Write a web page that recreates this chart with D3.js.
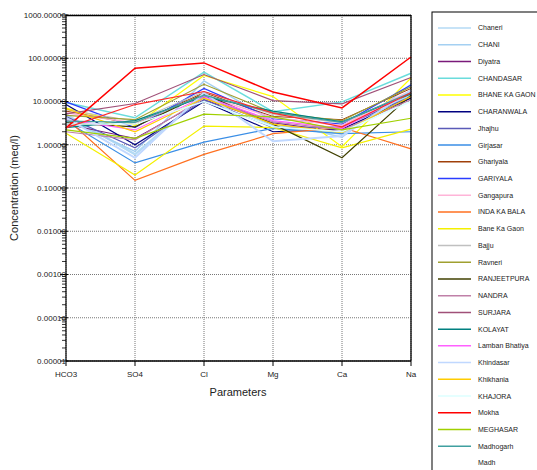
<!DOCTYPE html>
<html><head><meta charset="utf-8">
<script src="https://cdn.jsdelivr.net/npm/d3@7"></script>
<style>body{margin:0;background:#fff}svg{display:block}text{font-family:"Liberation Sans",Arial,sans-serif}</style>
</head><body><svg id="c" width="537" height="470"></svg>
<script>
const parameters = ["HCO3","SO4","Cl","Mg","Ca","Na"];
const yTickValues = [1000,100,10,1,0.1,0.01,0.001,0.0001,0.00001];
const yTickLabels = ["1000.00000","100.00000","10.00000","1.00000","0.10000","0.01000","0.00100","0.00010","0.00001"];
const siteNames = ["Chaneri","CHANI","Diyatra","CHANDASAR","BHANE KA GAON","CHARANWALA","Jhajhu","Girjasar","Ghariyala","GARIYALA","Gangapura","INDA KA BALA","Bane Ka Gaon","Bajju","Ravneri","RANJEETPURA","NANDRA","SURJARA","KOLAYAT","Lamban Bhatiya","Khindasar","Khikhania","KHAJORA","Mokha","MEGHASAR","Madhogarh","Madh"];
const siteColors = ["#b4daf4","#a4d0f2","#7a1a7a","#6adcdc","#ffff00","#000080","#5a5ab8","#3a8ee6","#a0400a","#2a3cff","#ffb4d8","#ff7020","#f4f000","#c0c0c0","#a0a030","#404000","#c080a8","#a05078","#008080","#ff60ff","#c0d8ff","#ffcc00","#dcffff","#ff0000","#a0d000","#40a0a0","#ff2a2a"];
const siteWidths = [2.5,1.5,1,1.5,1.2,1.2,1.2,1.2,1,1.2,1.5,1.2,1.2,1.2,1.2,1.2,1.2,1.2,1.2,1.2,2,1.2,1.5,1.5,1.2,1.2,1.2];
const Chaneri = [5.0,0.6,14,2.8,1.8,15];
const CHANI = [4.0,0.7,30,3.5,1.5,25];
const Diyatra = [3.0,1.4,11,3.2,2.0,12];
const CHANDASAR = [9.5,4.2,48,5.8,9.8,45];
const BHANE_KA_GAON = [7.0,2.8,40,13,0.9,35];
const CHARANWALA = [8.5,1.0,10,2.0,2.3,12];
const Jhajhu = [4.5,0.85,11,2.5,2.6,13];
const Girjasar = [3.5,0.38,1.15,2.4,1.8,2.0];
const Ghariyala = [6.0,3.0,16,4.5,3.8,20];
const GARIYALA = [9.8,2.5,20,4.0,3.0,24];
const Gangapura = [5.5,3.2,14,4.2,2.8,18];
const INDA_KA_BALA = [4.1,0.15,0.6,1.8,2.5,0.8];
const Bane_Ka_Gaon = [1.85,0.2,2.7,2.5,0.85,2.3];
const Bajju = [6.5,3.5,17,5.0,3.2,16];
const Ravneri = [4.8,3.8,25,5.5,3.6,22];
const RANJEETPURA = [3.2,2.6,15,3.0,0.5,14];
const NANDRA = [2.0,1.3,12,3.4,2.2,11];
const SURJARA = [5.2,9.0,42,10.5,8.8,36];
const KOLAYAT = [2.5,3.6,13,6.0,3.4,15];
const Lamban_Bhatiya = [3.8,2.2,13,3.6,2.4,17];
const Khindasar = [4.2,0.5,16,1.2,1.6,18];
const Khikhania = [6.8,2.0,12,3.0,1.9,13];
const KHAJORA = [3.0,3.0,10,2.6,2.0,10];
const Mokha = [2.45,59,78,16.6,7.1,107];
const MEGHASAR = [2.2,1.4,5.1,4.4,2.2,4.1];
const Madhogarh = [3.5,3.3,14,5.5,3.3,16];
const Madh = [2.45,8.5,17,5.4,2.6,16];
const siteValues = [Chaneri,CHANI,Diyatra,CHANDASAR,BHANE_KA_GAON,CHARANWALA,Jhajhu,Girjasar,Ghariyala,GARIYALA,Gangapura,INDA_KA_BALA,Bane_Ka_Gaon,Bajju,Ravneri,RANJEETPURA,NANDRA,SURJARA,KOLAYAT,Lamban_Bhatiya,Khindasar,Khikhania,KHAJORA,Mokha,MEGHASAR,Madhogarh,Madh];

const svg = d3.select("#c");
const L = 66, R = 411, T = 15, B = 361;
const x = d3.scalePoint().domain(parameters).range([L, R]);
const y = d3.scaleLog().domain([0.00001, 1000]).range([B, T]);

// grid
const g = svg.append("g");
g.selectAll(".hg").data(yTickValues).join("line")
  .attr("x1", L).attr("x2", R).attr("y1", d => y(d)).attr("y2", d => y(d))
  .attr("stroke", "#777").attr("stroke-width", 1).attr("stroke-dasharray","1,1");
g.selectAll(".vg").data(parameters).join("line")
  .attr("x1", d => x(d)).attr("x2", d => x(d)).attr("y1", T).attr("y2", B)
  .attr("stroke", "#777").attr("stroke-width", 1).attr("stroke-dasharray","1,1");

const line = d3.line().x((d, i) => x(parameters[i])).y(d => y(d));
svg.append("g").selectAll("path").data(siteValues).join("path")
  .attr("d", d => line(d)).attr("fill", "none")
  .attr("stroke", (d, i) => siteColors[i]).attr("stroke-width", (d, i) => siteWidths[i]);

// frame
svg.append("line").attr("x1", L).attr("x2", R).attr("y1", T + 0.5).attr("y2", T + 0.5).attr("stroke", "#000").attr("stroke-width", 1.3);
svg.append("line").attr("x1", R).attr("x2", R).attr("y1", T).attr("y2", B).attr("stroke", "#000").attr("stroke-width", 1.3);

// y axis with minor ticks
const minor = [];
for (let e = -5; e < 3; e++) for (let m = 2; m <= 9; m++) minor.push(m * Math.pow(10, e));
const ya = svg.append("g").attr("transform", `translate(${L},0)`);
ya.append("line").attr("x1", 0).attr("x2", 0).attr("y1", T).attr("y2", B).attr("stroke", "#000").attr("stroke-width", 1.2);
ya.selectAll(".mt").data(minor).join("line")
  .attr("x1", -4).attr("x2", 0).attr("y1", d => y(d)).attr("y2", d => y(d)).attr("stroke", "#000").attr("stroke-width", 0.8);
ya.selectAll(".Mt").data(yTickValues).join("line")
  .attr("x1", -6).attr("x2", 2).attr("y1", d => y(d)).attr("y2", d => y(d)).attr("stroke", "#000").attr("stroke-width", 1);
ya.selectAll("text").data(yTickValues).join("text")
  .attr("x", 0).attr("y", d => y(d)).attr("dy", "0.35em").attr("text-anchor", "end")
  .attr("font-size", 8).attr("fill", "#222").text((d, i) => yTickLabels[i]);

// x axis
const xa = svg.append("g").attr("transform", `translate(0,${B})`);
xa.append("line").attr("x1", L).attr("x2", R).attr("y1", 0).attr("y2", 0).attr("stroke", "#000").attr("stroke-width", 1.5);
xa.selectAll(".xt").data(parameters).join("line")
  .attr("x1", d => x(d)).attr("x2", d => x(d)).attr("y1", 0).attr("y2", 5).attr("stroke", "#000");
xa.selectAll("text").data(parameters).join("text")
  .attr("x", d => x(d)).attr("y", 16).attr("text-anchor", "middle").attr("font-size", 8).attr("fill", "#222").text(d => d);

svg.append("text").attr("x", 238).attr("y", 396).attr("text-anchor", "middle").attr("font-size", 11).attr("fill", "#222").text("Parameters");
svg.append("text").attr("transform", "translate(18,188) rotate(-90)").attr("text-anchor", "middle").attr("font-size", 11).attr("fill", "#222").text("Concentration (meq/l)");

// legend
const lg = svg.append("g");
lg.append("rect").attr("x", 432).attr("y", 12).attr("width", 140).attr("height", 500).attr("fill", "#fff").attr("stroke", "#000").attr("stroke-width", 1);
const step = 16.73;
lg.selectAll(".ll").data(siteNames.slice(0, siteNames.length - 1)).join("line")
  .attr("x1", 438).attr("x2", 471).attr("y1", (d, i) => 28 + i * step).attr("y2", (d, i) => 28 + i * step)
  .attr("stroke", (d, i) => siteColors[i]).attr("stroke-width", 1.5);
lg.selectAll("text").data(siteNames).join("text")
  .attr("x", 478).attr("y", (d, i) => 28 + i * step).attr("dy", "0.35em").attr("font-size", 7).attr("fill", "#222")
  .text(d => d);
</script></body></html>
